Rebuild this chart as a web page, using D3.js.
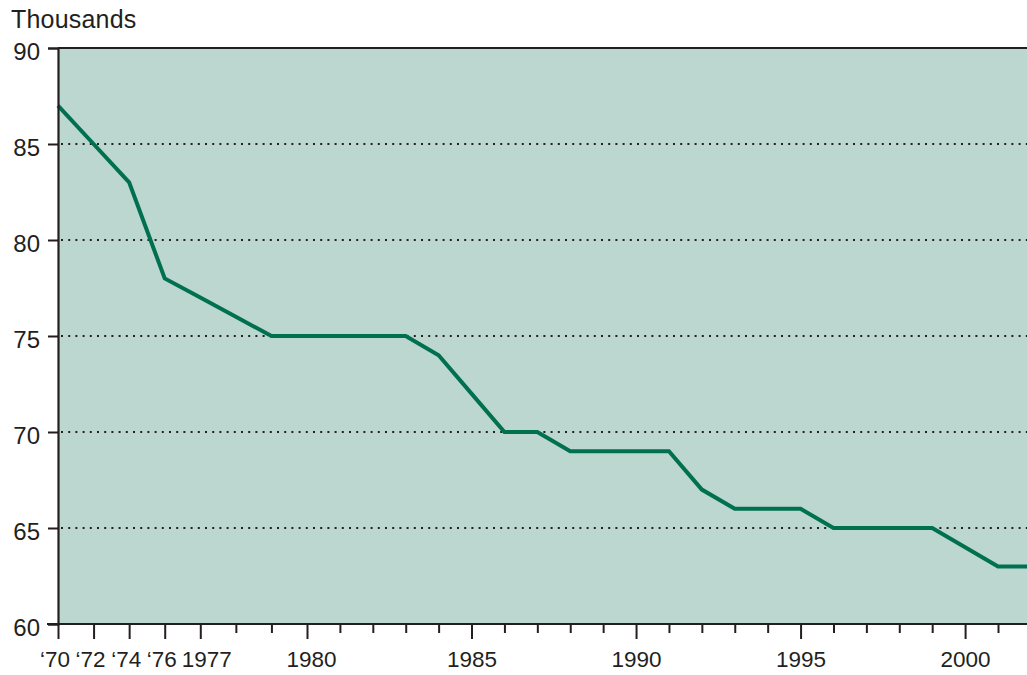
<!DOCTYPE html>
<html>
<head>
<meta charset="utf-8">
<script src="https://cdn.jsdelivr.net/npm/d3@7"></script>
<style>
  html, body { margin: 0; padding: 0; background: #fff; }
  svg { display: block; }
  text { font-family: "Liberation Sans", Arial, sans-serif; fill: #231f20; }
</style>
</head>
<body>
<svg id="chart" width="1027" height="675"></svg>
<script>
// Categories (year points)
const years = ["1970","1972","1974","1976","1977","1978","1979","1980","1981","1982","1983","1984","1985","1986","1987","1988","1989","1990","1991","1992","1993","1994","1995","1996","1997","1998","1999","2000","2001","2002"];
// Values in thousands
const values = [87,85,83,78,77,76,75,75,75,75,75,74,72,70,70,69,69,69,69,67,66,66,66,65,65,65,65,64,63,63];
// Tick labels (only major ticks labelled)
const tickLabels = {"1970":"\u201870","1972":"\u201872","1974":"\u201874","1976":"\u201876","1977":"1977","1980":"1980","1985":"1985","1990":"1990","1995":"1995","2000":"2000"};
const yTicks = [60,65,70,75,80,85,90];
const yLabel = "Thousands";

const svg = d3.select("#chart");
const mLeft = 58, mTop = 48, mBottom = 624;

// position scale on category index (early years slightly wider spaced, as in the original)
const xi = d3.scaleLinear().domain([0, 7, 28]).range([mLeft, 307, 998]);
const x = d => xi(years.indexOf(d));
const y = d3.scaleLinear().domain([60, 90]).range([mBottom, mTop]);

// plot background
svg.append("rect")
  .attr("x", mLeft).attr("y", mTop)
  .attr("width", 1100 - mLeft).attr("height", mBottom - mTop)
  .attr("fill", "#bbd7cf");

// dotted gridlines
svg.append("g").selectAll("line")
  .data(yTicks.filter(d => d > 60 && d < 90))
  .join("line")
  .attr("x1", mLeft + 3).attr("x2", 1100)
  .attr("y1", d => y(d)).attr("y2", d => y(d))
  .attr("stroke", "#231f20")
  .attr("stroke-width", 2)
  .attr("stroke-dasharray", "2,5.2");

// top border
svg.append("line")
  .attr("x1", mLeft).attr("x2", 1100)
  .attr("y1", mTop).attr("y2", mTop)
  .attr("stroke", "#231f20").attr("stroke-width", 2);

// line
const line = d3.line()
  .x((d, i) => x(years[i]))
  .y(d => y(d));
svg.append("path")
  .datum(values)
  .attr("d", line)
  .attr("fill", "none")
  .attr("stroke", "#007050")
  .attr("stroke-width", 4)
  .attr("stroke-linejoin", "miter");

// y axis
const yAxis = d3.axisLeft(y).tickValues(yTicks).tickSize(10).tickPadding(8);
const gy = svg.append("g").attr("transform", `translate(${mLeft},0)`).call(yAxis);
gy.select(".domain").attr("stroke", "#231f20").attr("stroke-width", 2.2);
gy.selectAll(".tick line").attr("stroke", "#231f20").attr("stroke-width", 2);
gy.selectAll(".tick text")
  .attr("font-size", 24)
  .attr("font-family", "Liberation Sans, Arial, sans-serif")
  .attr("fill", "#231f20")
  .attr("dy", "0.47em");

// x axis: ticks drawn through the index scale
const xAxisScale = d3.scaleLinear().domain(xi.domain()).range(xi.range());
const xAxis = d3.axisBottom(xAxisScale)
  .tickValues(d3.range(years.length))
  .tickSize(0).tickSizeOuter(0)
  .tickFormat(i => tickLabels[years[i]] || "");
const gx = svg.append("g").attr("transform", `translate(0,${mBottom})`).call(xAxis);
gx.select(".domain").attr("stroke", "#231f20").attr("stroke-width", 2.2)
  .attr("d", `M${mLeft - 11},0H1100`);
gx.selectAll(".tick line")
  .attr("stroke", "#231f20").attr("stroke-width", 2)
  .attr("y2", i => tickLabels[years[i]] ? 15 : 9);
const labelShift = i => {
  const lab = tickLabels[years[i]] || "";
  if (lab.length === 3) return -3.5;
  if (lab === "1977") return 6;
  if (lab === "1980") return 4;
  return 0;
};
gx.selectAll(".tick text")
  .attr("font-size", 22.5)
  .attr("font-family", "Liberation Sans, Arial, sans-serif")
  .attr("fill", "#231f20")
  .attr("y", 0).attr("dy", 0)
  .attr("transform", i => `translate(${labelShift(i)},43)`);

// axis title
svg.append("text")
  .attr("x", 11).attr("y", 28)
  .attr("font-size", 25)
  .attr("letter-spacing", 0.2)
  .text(yLabel);
</script>
</body>
</html>
